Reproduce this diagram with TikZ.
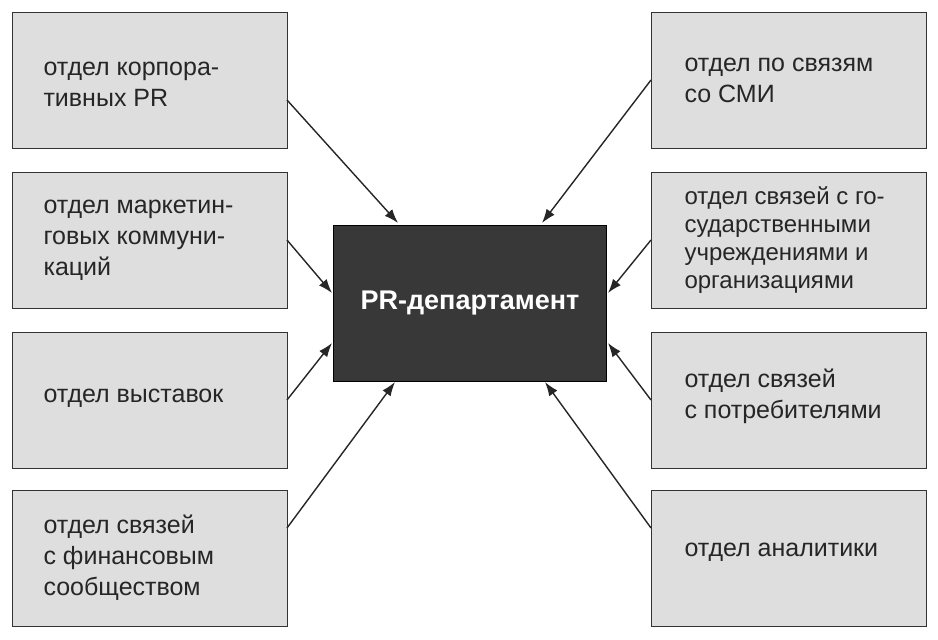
\documentclass[tikz,border=0pt]{standalone}
\usepackage{fontspec}
\setmainfont{Liberation Sans}
\begin{document}
\begin{tikzpicture}[x=1pt,y=-1pt,
 box/.style={draw=black!80,line width=1pt,fill=black!13,minimum width=275pt,minimum height=136pt,anchor=north west,inner sep=0pt},
 lbl/.style={anchor=west,align=left,font=\fontsize{25}{31}\selectfont,text=black!85},
 lbl4/.style={lbl,font=\fontsize{24}{28}\selectfont},
 arr/.style={-{Latex[length=14pt,width=10pt]},line width=1.4pt,black!85}]
\usetikzlibrary{arrows.meta}
\useasboundingbox (0,0) rectangle (938,640);
\fill[white] (0,0) rectangle (938,640);
\node[box] (l1) at (12,12) {};
\node[box] (l2) at (12,172) {};
\node[box] (l3) at (12,332) {};
\node[box] (l4) at (12,490) {};
\node[box] (r1) at (651,12) {};
\node[box] (r2) at (651,172) {};
\node[box] (r3) at (651,332) {};
\node[box] (r4) at (651,490) {};
\node[lbl] at (40,84) {отдел корпора-\\тивных PR};
\node[lbl] at (40,240) {отдел маркетин-\\говых коммуни-\\каций};
\node[lbl] at (40,398) {отдел выставок};
\node[lbl] at (40,558) {отдел связей\\с финансовым\\сообществом};
\node[lbl] at (681,80) {отдел по связям\\со СМИ};
\node[lbl4] at (681,240) {отдел связей с го-\\сударственными\\учреждениями и\\организациями};
\node[lbl] at (681,396) {отдел связей\\с потребителями};
\node[lbl] at (681,552) {отдел аналитики};
\node[draw=black,line width=1pt,fill=black!78,minimum width=273pt,minimum height=156pt,anchor=north west,inner sep=0pt] (c) at (333,225) {};
\node[text=white,font=\bfseries\fontsize{27}{30}\selectfont] at (c.center) {PR-департамент};
\coordinate (a1) at (287,100); \coordinate (e1) at (398,223);
\coordinate (a2) at (287,240); \coordinate (e2) at (332,293);
\coordinate (a3) at (287,400); \coordinate (e3) at (332,343);
\coordinate (a4) at (287,528); \coordinate (e4) at (395,382);
\coordinate (b1) at (651,80);  \coordinate (f1) at (542,223);
\coordinate (b2) at (651,240); \coordinate (f2) at (608,293);
\coordinate (b3) at (651,400); \coordinate (f3) at (608,343);
\coordinate (b4) at (651,528); \coordinate (f4) at (545,382);
\foreach \i in {1,...,4}{\draw[arr] (a\i) -- (e\i); \draw[arr] (b\i) -- (f\i);}
\end{tikzpicture}
\end{document}
